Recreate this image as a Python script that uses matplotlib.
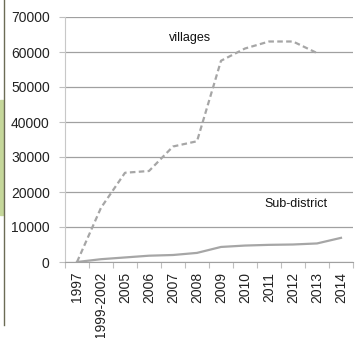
import numpy as np
import matplotlib.pyplot as plt
from matplotlib.patches import Rectangle
from matplotlib.lines import Line2D

plt.rcParams['font.family'] = ['Liberation Sans', 'DejaVu Sans']

# Categories and values
years = ['1997', '1999-2002', '2005', '2006', '2007', '2008', '2009',
         '2010', '2011', '2012', '2013', '2014']
villages = [0, 15500, 25500, 26000, 33000, 34500, 57500, 61000, 63000, 63000, 59700]
sub_district = [0, 800, 1300, 1800, 2000, 2600, 4300, 4700, 4900, 5000, 5300, 6900]

fig = plt.figure(figsize=(3.55, 3.38), dpi=100)
ax = fig.add_axes([65 / 355, 1 - 262 / 338, 288 / 355, 245 / 338])

x = np.arange(len(years))
ax.plot(x[:len(villages)], villages, color='#a6a6a6', lw=1.6, ls=(0, (2.5, 1.5)))
ax.plot(x, sub_district, color='#a6a6a6', lw=1.6)

ax.set_xlim(-0.5, len(years) - 0.5)
ax.set_ylim(0, 70000)
ax.set_yticks(range(0, 70001, 10000))
ax.tick_params(axis='y', labelsize=10, colors='#bfbfbf', labelcolor='#222222',
               length=4, width=0.8, pad=7)
ax.grid(axis='y', color='#a0a0a0', lw=0.9)
ax.set_axisbelow(True)

# category labels, tick marks between categories
ax.set_xticks(x)
ax.set_xticklabels(years, rotation=90, fontsize=10, color='#222222')
ax.tick_params(axis='x', length=0, pad=7)
ax.set_xticks(np.arange(-0.5, len(years)), minor=True)
ax.tick_params(axis='x', which='minor', length=4, color='#bfbfbf', width=0.8)

for s in ['top', 'right']:
    ax.spines[s].set_visible(False)
ax.spines['left'].set_color('#c8c8c8')
ax.spines['bottom'].set_color('#a0a0a0')

ax.text(3.85, 63000, 'villages', fontsize=9, color='#111111')
ax.text(7.8, 15600, 'Sub-district', fontsize=9, color='#111111')

# bits of the page at the left edge
fig.patches.append(Rectangle((0, 1 - 215 / 338), 3 / 355, 115 / 338,
                             transform=fig.transFigure, color='#c5d79a'))
fig.lines.append(Line2D([4 / 355, 4 / 355], [1 - 325 / 338, 1],
                        transform=fig.transFigure, color='#6b6b55', lw=1))

fig.savefig('out.png', dpi=100)
